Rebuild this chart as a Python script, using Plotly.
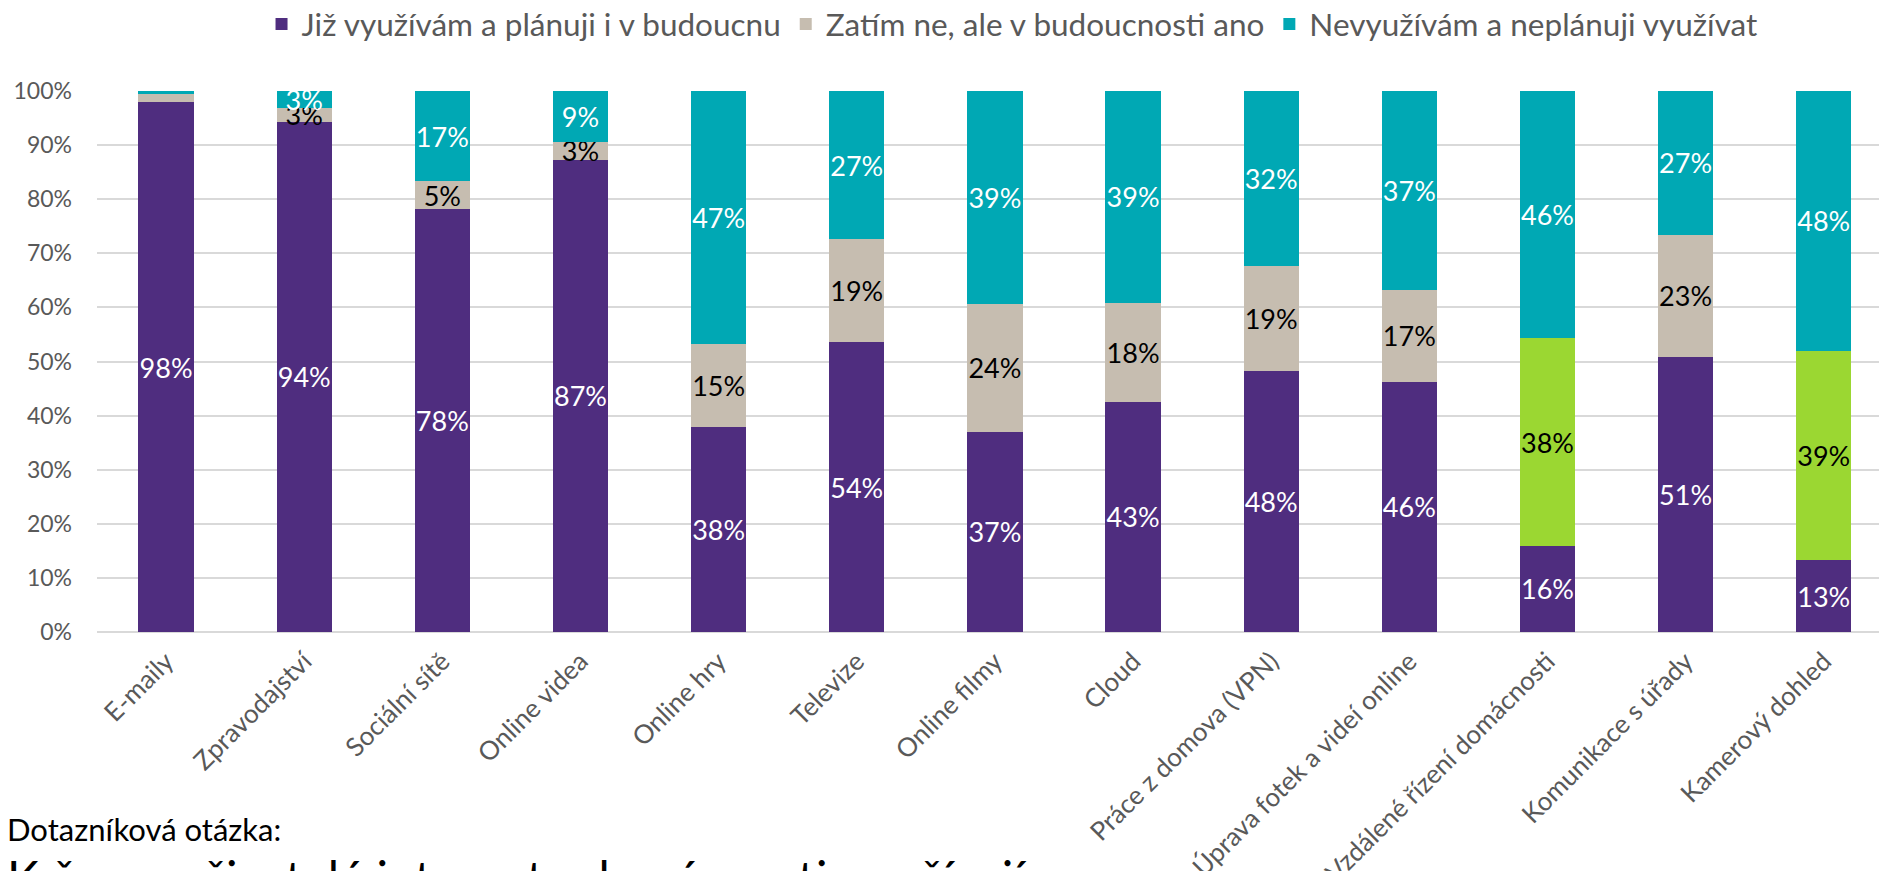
import plotly.graph_objects as go

categories = ["E-maily", "Zpravodajství", "Sociální sítě", "Online videa", "Online hry",
              "Televize", "Online filmy", "Cloud", "Práce z domova (VPN)",
              "Úprava fotek a videí online", "Vzdálené řízení domácnosti",
              "Komunikace s úřady", "Kamerový dohled"]

series_names = ["Již využívám a plánuji i v budoucnu",
                "Zatím ne, ale v budoucnosti ano",
                "Nevyužívám a neplánuji využívat"]

uses_now = [97.9, 94.3, 78.2, 87.3, 37.9, 53.6, 37.0, 42.6, 48.3, 46.3, 15.9, 50.9, 13.3]
future = [1.5, 2.6, 5.1, 3.3, 15.3, 19.0, 23.6, 18.3, 19.3, 17.0, 38.4, 22.5, 38.7]
never = [0.6, 3.1, 16.7, 9.4, 46.8, 27.4, 39.4, 39.1, 32.4, 36.7, 45.7, 26.6, 48.0]

y_ticks = [0, 10, 20, 30, 40, 50, 60, 70, 80, 90, 100]
y_tick_labels = [f"{t}%" for t in y_ticks]

highlight = ["Vzdálené řízení domácnosti", "Kamerový dohled"]

C_PURPLE = "#4F2D7F"
C_BEIGE = "#C6BDB0"
C_TEAL = "#00A8B4"
C_GREEN = "#9BD732"
FONT = "Lato"


def labels(vals):
    return [f"{int(v + 0.5)}%" if v >= 2 else "" for v in vals]


fig = go.Figure()
fig.add_trace(go.Bar(
    x=categories, y=uses_now, name=series_names[0],
    marker=dict(color=C_PURPLE, line=dict(width=0)),
    text=labels(uses_now), textposition="inside", insidetextanchor="middle",
    textangle=0, textfont=dict(color="white", size=27, family=FONT),
    hoverinfo="x+y",
))
fig.add_trace(go.Bar(
    x=categories, y=future, name=series_names[1],
    marker=dict(color=[C_GREEN if c in highlight else C_BEIGE for c in categories],
                line=dict(width=0)),
    text=labels(future), textposition="inside", insidetextanchor="middle",
    textangle=0, textfont=dict(color="black", size=27, family=FONT),
    hoverinfo="x+y",
))
fig.add_trace(go.Bar(
    x=categories, y=never, name=series_names[2],
    marker=dict(color=C_TEAL, line=dict(width=0)),
    text=labels(never), textposition="inside", insidetextanchor="middle",
    textangle=0, textfont=dict(color="white", size=27, family=FONT),
    hoverinfo="x+y",
))

fig.update_layout(
    barmode="stack",
    bargap=0.6,
    width=1879, height=871,
    margin=dict(l=97, r=0, t=91, b=239, autoexpand=False),
    paper_bgcolor="white", plot_bgcolor="white",
    font=dict(family=FONT, color="#595959"),
    uniformtext=dict(minsize=27, mode="show"),
    showlegend=True,
    legend=dict(
        orientation="h", xref="container", yref="container",
        x=0.5386, xanchor="center", y=0.9724, yanchor="middle",
        font=dict(size=31.5, color="#595959", family=FONT),
        traceorder="normal", itemsizing="constant",
    ),
    xaxis=dict(
        range=[-0.5, 12.4], showgrid=False, showline=False, ticks="",
        tickangle=-45, tickfont=dict(size=26, color="#595959", family=FONT),
        ticklabelstandoff=8,
    ),
    yaxis=dict(
        range=[0, 100], tickmode="array", tickvals=y_ticks, ticktext=y_tick_labels,
        showgrid=True, gridcolor="#D9D9D9", gridwidth=2,
        zeroline=True, zerolinecolor="#D9D9D9", zerolinewidth=2,
        showline=False, ticks="",
        tickfont=dict(size=23, color="#595959", family=FONT),
        ticklabelstandoff=24,
    ),
    annotations=[
        dict(text="Dotazníková otázka:", xref="paper", yref="paper",
             x=-0.0514, y=-0.364, xanchor="left", yanchor="middle",
             showarrow=False, font=dict(size=31, color="black", family=FONT)),
        dict(text="K čemu uživatelé internetu domácnosti používají", xref="paper", yref="paper",
             x=-0.0514, y=-0.397, xanchor="left", yanchor="top",
             showarrow=False, font=dict(size=48, color="black", family=FONT)),
    ],
)

fig.write_html("out.html",
               config={"displayModeBar": False},
               post_script="document.body.style.margin='0';document.body.style.overflow='hidden';")
